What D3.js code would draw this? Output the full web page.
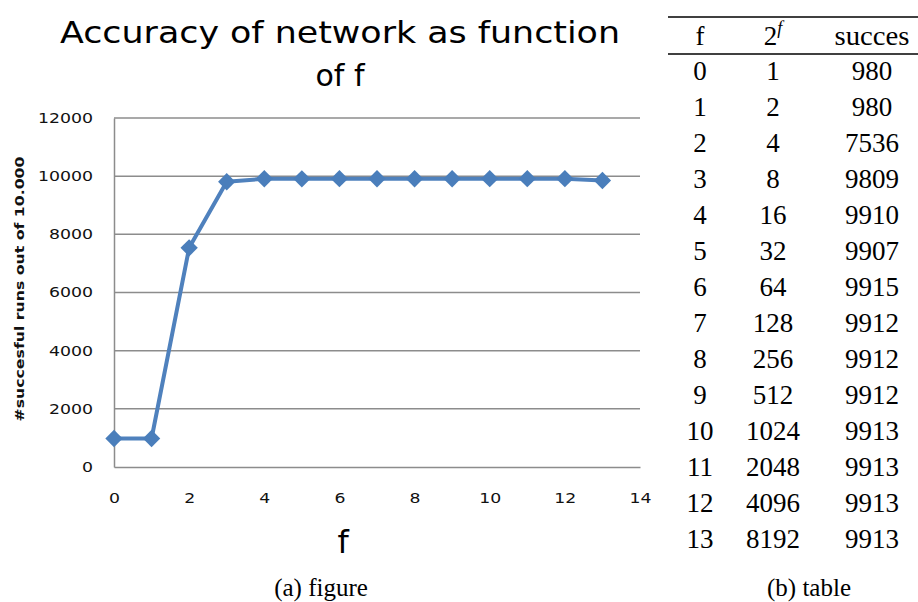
<!DOCTYPE html>
<html>
<head>
<meta charset="utf-8">
<script src="https://cdn.jsdelivr.net/npm/d3@7"></script>
<style>
	body { margin: 0; background: #fff; }
	svg { display: block; }
</style>
</head>
<body>
<div id="chart"></div>
<script>
// values
var fValues = [0, 1, 2, 3, 4, 5, 6, 7, 8, 9, 10, 11, 12, 13]
var powValues = [1, 2, 4, 8, 16, 32, 64, 128, 256, 512, 1024, 2048, 4096, 8192]
var successValues = [980, 980, 7536, 9809, 9910, 9907, 9915, 9912, 9912, 9912, 9913, 9913, 9913, 9913]
// the plotted line (last point sits a little lower than the table says)
var plotValues = [980, 980, 7536, 9809, 9910, 9907, 9915, 9912, 9912, 9912, 9913, 9913, 9913, 9850]
var xTicks = [0, 2, 4, 6, 8, 10, 12, 14]
var yTicks = [0, 2000, 4000, 6000, 8000, 10000, 12000]
var headers = ["f", "2", "succes"]

var width = 918, height = 602
var svg = d3.select("#chart").append("svg")
	.attr("width", width)
	.attr("height", height)

var chartFont = "'DejaVu Sans', Verdana, sans-serif"
var tableFont = "'Liberation Serif', 'Times New Roman', serif"

var x = d3.scaleLinear().domain([0, 14]).range([114, 640])
var y = d3.scaleLinear().domain([0, 12000]).range([467, 118])

// title
svg.append("text")
	.attr("x", 340).attr("y", 43)
	.attr("text-anchor", "middle")
	.style("font-family", chartFont)
	.style("font-size", "30px")
	.attr("textLength", 560)
	.attr("lengthAdjust", "spacingAndGlyphs")
	.text("Accuracy of network as function")
svg.append("text")
	.attr("x", 340).attr("y", 86)
	.attr("text-anchor", "middle")
	.style("font-family", chartFont)
	.style("font-size", "30px")
	.text("of f")

// gridlines
svg.append("g")
	.selectAll("line")
	.data(yTicks.filter(d => d > 0))
	.enter().append("line")
		.attr("x1", x(0)).attr("x2", x(14))
		.attr("y1", d => y(d)).attr("y2", d => y(d))
		.attr("stroke", "#8c8c8c")
		.attr("stroke-width", 1.5)

// axes
svg.append("g")
	.attr("transform", "translate(" + x(0) + ",0)")
	.call(d3.axisLeft(y).tickValues(yTicks).tickSize(0).tickPadding(21).tickFormat(d3.format("d")))
svg.append("g")
	.attr("transform", "translate(0," + y(0) + ")")
	.call(d3.axisBottom(x).tickValues(xTicks).tickSize(0).tickPadding(26).tickFormat(d3.format("d")))

svg.selectAll(".domain")
	.attr("stroke", "#8c8c8c")
	.attr("stroke-width", 1.5)
// excel draws these a bit wide, so stretch to ~11px per digit
svg.selectAll(".tick text")
	.style("font-family", chartFont)
	.style("font-size", "14px")
	.attr("fill", "#111")
	.attr("textLength", function() { return this.textContent.length * 11 })
	.attr("lengthAdjust", "spacingAndGlyphs")

// axis titles
svg.append("text")
	.attr("transform", "translate(24,289) rotate(-90)")
	.attr("text-anchor", "middle")
	.style("font-family", chartFont)
	.style("font-size", "13px")
	.style("font-weight", "bold")
	.attr("fill", "#111")
	.attr("textLength", 265)
	.attr("lengthAdjust", "spacingAndGlyphs")
	.text("#succesful  runs out of 10.000")

svg.append("text")
	.attr("x", x(6.1)).attr("y", 553)
	.attr("text-anchor", "middle")
	.style("font-family", chartFont)
	.style("font-size", "32px")
	.text("f")

// line and markers
var line = d3.line()
	.x((d, i) => x(fValues[i]))
	.y(d => y(d))

svg.append("path")
	.datum(plotValues)
	.attr("fill", "none")
	.attr("stroke", "#4f81bd")
	.attr("stroke-width", 4)
	.attr("stroke-linejoin", "round")
	.attr("d", line)

svg.append("g")
	.selectAll("path")
	.data(plotValues)
	.enter().append("path")
		.attr("transform", (d, i) => "translate(" + x(fValues[i]) + "," + y(d) + ") rotate(45)")
		.attr("d", d3.symbol().type(d3.symbolSquare).size(150))
		.attr("fill", "#4a7ebb")

// table
var colX = [700, 773, 872]
var rowY = d3.scaleLinear().domain([0, 13]).range([80, 548])

svg.append("line")
	.attr("x1", 668).attr("x2", 918)
	.attr("y1", 17).attr("y2", 17)
	.attr("stroke", "#000").attr("stroke-width", 1.5)
svg.append("line")
	.attr("x1", 668).attr("x2", 918)
	.attr("y1", 54).attr("y2", 54)
	.attr("stroke", "#000").attr("stroke-width", 1.5)

var head = svg.append("g")
	.style("font-family", tableFont)
	.style("font-size", "27px")
head.append("text").attr("x", colX[0]).attr("y", 45).attr("text-anchor", "middle").text(headers[0])
var powHead = head.append("text").attr("x", colX[1]).attr("y", 45).attr("text-anchor", "middle")
powHead.append("tspan").text(headers[1])
powHead.append("tspan").attr("dy", -11).style("font-size", "18px").style("font-style", "italic").text("f")
head.append("text").attr("x", colX[2]).attr("y", 45).attr("text-anchor", "middle")
	.attr("textLength", 75).attr("lengthAdjust", "spacingAndGlyphs").text(headers[2])

var rows = svg.append("g")
	.style("font-family", tableFont)
	.style("font-size", "27px")
	.selectAll("g")
	.data(fValues)
	.enter().append("g")
		.attr("transform", (d, i) => "translate(0," + rowY(i) + ")")

rows.append("text").attr("x", colX[0]).attr("text-anchor", "middle").text(d => d)
rows.append("text").attr("x", colX[1]).attr("text-anchor", "middle").text((d, i) => powValues[i])
rows.append("text").attr("x", colX[2]).attr("text-anchor", "middle").text((d, i) => successValues[i])

// captions
svg.append("text")
	.attr("x", 321).attr("y", 596)
	.attr("text-anchor", "middle")
	.style("font-family", tableFont)
	.style("font-size", "25px")
	.text("(a) figure")
svg.append("text")
	.attr("x", 809).attr("y", 596)
	.attr("text-anchor", "middle")
	.style("font-family", tableFont)
	.style("font-size", "25px")
	.text("(b) table")
</script>
</body>
</html>
